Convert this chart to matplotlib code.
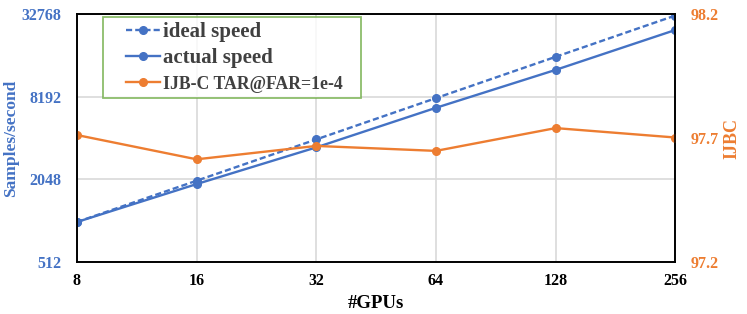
import matplotlib
matplotlib.use('Agg')
from matplotlib import pyplot as plt
from matplotlib.lines import Line2D
from matplotlib.legend_handler import HandlerLine2D
from matplotlib.ticker import FixedLocator, FixedFormatter, NullLocator

plt.rcParams['font.family'] = ['Liberation Serif', 'DejaVu Serif']
plt.rcParams['font.weight'] = 'bold'

gpus = [8, 16, 32, 64, 128, 256]
ideal_speed = [1000, 2000, 4000, 8000, 16000, 32000]
actual_speed = [1000, 1890, 3500, 6800, 12850, 25100]
ijbc = [97.712, 97.614, 97.668, 97.648, 97.740, 97.702]

left_ticks = [512, 2048, 8192, 32768]
right_ticks = [97.2, 97.7, 98.2]

blue = '#4472C4'
orange = '#ED7D31'

fig = plt.figure(figsize=(7.47, 3.14), dpi=100)
ax = fig.add_axes([0.103, 0.166, 0.801, 0.789])
ax2 = ax.twinx()

l1, = ax.plot(gpus, ideal_speed, '--o', color=blue, lw=1.7, ms=5.5, dashes=(2.6, 1.3),
              label='ideal speed')
l2, = ax.plot(gpus, actual_speed, '-o', color=blue, lw=1.7, ms=5.5, label='actual speed')
l3, = ax2.plot(gpus, ijbc, '-o', color=orange, lw=1.7, ms=5.5, label='IJB-C TAR@FAR=1e-4')

ax.set_xscale('log', base=2)
ax.set_yscale('log', base=2)
ax.set_xlim(8, 256)
ax.set_ylim(512, 32768)
ax2.set_ylim(97.2, 98.2)

ax.xaxis.set_major_locator(FixedLocator(gpus))
ax.xaxis.set_major_formatter(FixedFormatter([str(g) for g in gpus]))
ax.xaxis.set_minor_locator(NullLocator())
ax.yaxis.set_major_locator(FixedLocator(left_ticks))
ax.yaxis.set_major_formatter(FixedFormatter([str(t) for t in left_ticks]))
ax.yaxis.set_minor_locator(NullLocator())
ax2.yaxis.set_major_locator(FixedLocator(right_ticks))
ax2.yaxis.set_major_formatter(FixedFormatter([str(t) for t in right_ticks]))

ax.grid(True, color='#D9D9D9', lw=1.2)
ax.tick_params(axis='x', length=0, pad=8, labelsize=11.5, labelcolor='black')
ax.tick_params(axis='y', length=0, pad=11, labelsize=11.5, labelcolor=blue)
ax2.tick_params(axis='y', length=0, pad=11, labelsize=11.5, labelcolor=orange)

for a in (ax, ax2):
    for s in a.spines.values():
        s.set_color('black')
        s.set_linewidth(1.2)

ax.set_xlabel('#GPUs', fontsize=13.5, fontweight='bold', labelpad=4)
ax.set_ylabel('Samples/second', fontsize=12.5, fontweight='bold', color=blue)
ax.yaxis.set_label_coords(-0.097, 0.5)
ax2.set_ylabel('IJBC', fontsize=13, fontweight='bold', color=orange)
ax2.yaxis.set_label_coords(1.080, 0.5)

# legend frame stretched to the reference box width, handles pushed inward
leg = ax2.legend(handles=[l1, l2, l3], loc='upper left', mode='expand',
                 bbox_to_anchor=(103 / 747, 1 - 17 / 314, 258 / 747, 0),
                 bbox_transform=fig.transFigure,
                 frameon=True, fancybox=False, handlelength=2.5, handletextpad=0.15,
                 borderpad=0.25, labelspacing=0.3, borderaxespad=0,
                 handler_map={Line2D: HandlerLine2D(xpad=0.85)},
                 prop={'weight': 'bold', 'size': 15})
leg.get_frame().set_edgecolor('#70AD47')
leg.get_frame().set_linewidth(1.3)
for i, t in enumerate(leg.get_texts()):
    t.set_color('#404040')
    if i == 2:
        t.set_fontsize(12.8)

fig.savefig('out.png', dpi=100)
